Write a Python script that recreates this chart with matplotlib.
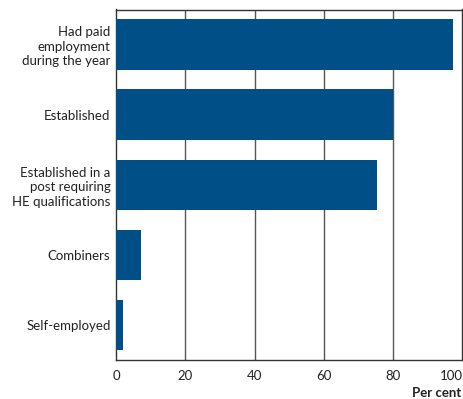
import matplotlib
matplotlib.use("Agg")
import matplotlib.pyplot as plt

categories = ["Had paid\nemployment\nduring the year", "Established",
              "Established in a\npost requiring\nHE qualifications", "Combiners", "Self-employed"]
values = [97.2, 80, 75.3, 7.2, 2.0]
xticks = [0, 20, 40, 60, 80, 100]

plt.rcParams['font.family'] = ['Lato', 'DejaVu Sans']
fig = plt.figure(figsize=(4.63, 3.99), dpi=100)
ax = fig.add_axes([116/463, 1-360.3/399, (462.5-116)/463, (360.3-9.5)/399])
y = list(range(len(categories)))
ax.barh(y, values, height=0.72, color="#004f86", zorder=3)
ax.set_ylim(4.5, -0.5)
ax.set_xlim(0, 100)
ax.set_yticks(y)
ax.set_yticklabels(categories, fontsize=9.5, color="#222222", linespacing=1.25)
ax.set_xticks(xticks)
labels = ax.set_xticklabels([str(t) for t in xticks], fontsize=9.5, color="#222222")
labels[-1].set_horizontalalignment("right")
ax.tick_params(length=0, pad=7)
ax.tick_params(axis='y', pad=4)
for g in [20, 40, 60, 80]:
    ax.axvline(g, color="#555555", lw=1.0, zorder=1)
for s in ax.spines.values():
    s.set_color("#333333")
    s.set_linewidth(1.0)
fig.text(461/463, 1-393/399, "Per cent", ha="right", va="center", fontsize=9.5,
         fontweight="bold", color="#222222")
fig.savefig("out.png", dpi=100)
